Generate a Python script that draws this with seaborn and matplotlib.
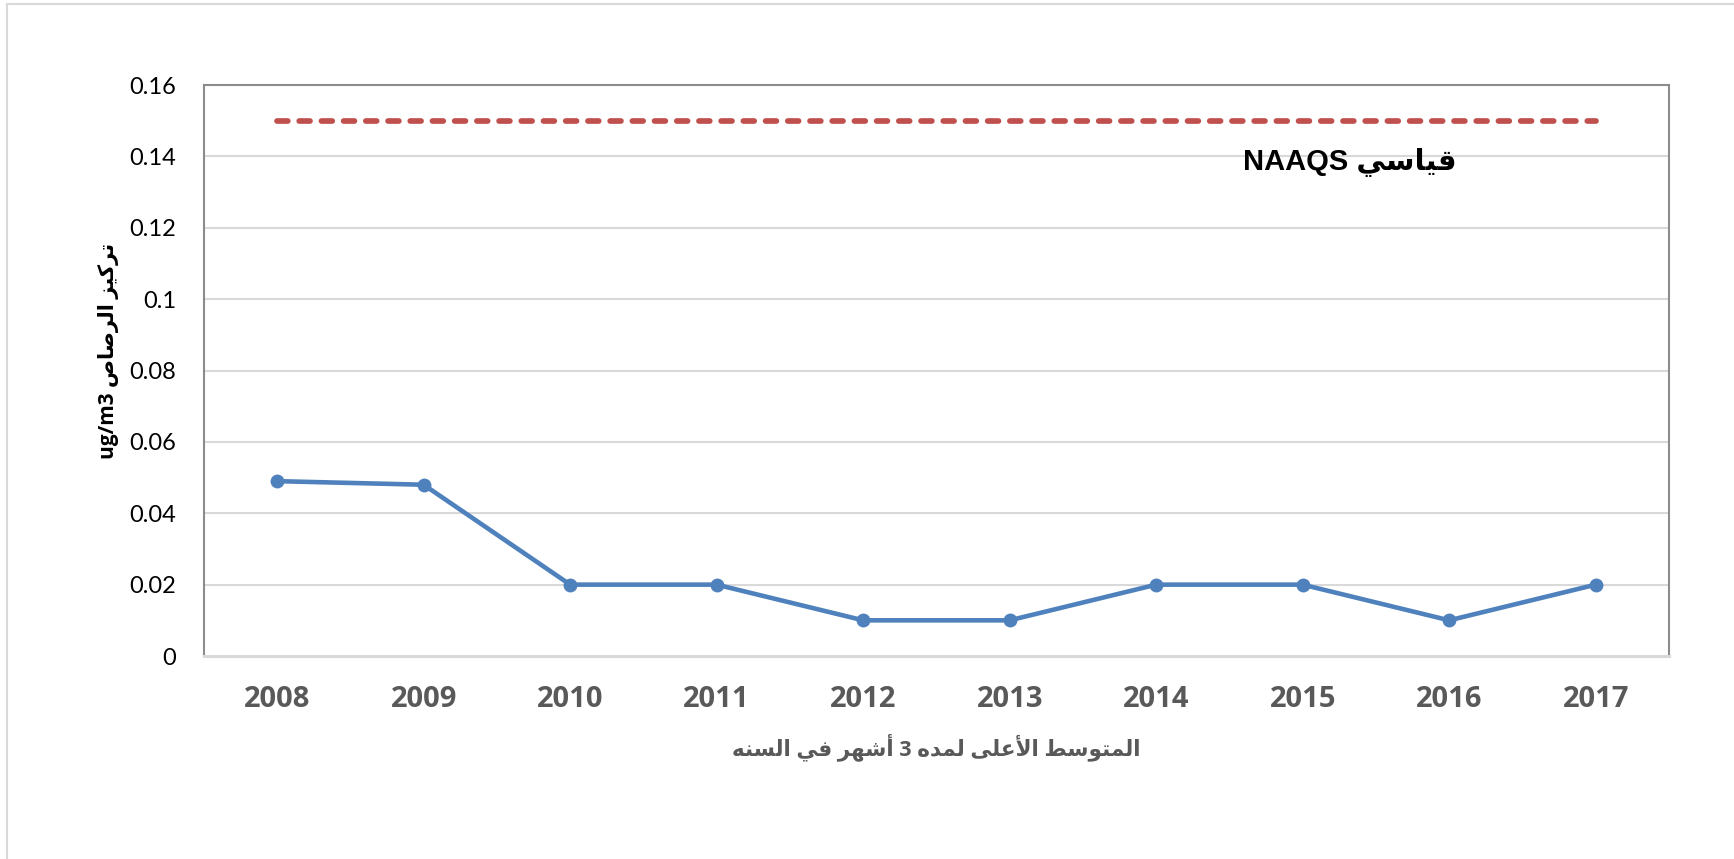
import numpy as np
import pandas as pd
import matplotlib
matplotlib.use("Agg")
import matplotlib.pyplot as plt
import seaborn as sns
from matplotlib.lines import Line2D

# data
years = ["2008", "2009", "2010", "2011", "2012", "2013", "2014", "2015", "2016", "2017"]
lead = [0.049, 0.048, 0.02, 0.02, 0.01, 0.01, 0.02, 0.02, 0.01, 0.02]
naaqs = [0.15] * len(years)
yticks = [0, 0.02, 0.04, 0.06, 0.08, 0.1, 0.12, 0.14, 0.16]
ytick_labels = ["0", "0.02", "0.04", "0.06", "0.08", "0.1", "0.12", "0.14", "0.16"]

ylabel_text = "تركيز الرصاص ug/m3"
xlabel_text = "المتوسط الأعلى لمده 3 أشهر في السنه"
naaqs_text = "قياسي NAAQS"

# matplotlib has no arabic shaping, so map letters to presentation forms
# (isolated, final, initial, medial)
FORMS = {
    'ا': ('\uFE8D', '\uFE8E', None, None),
    'أ': ('\uFE83', '\uFE84', None, None),
    'د': ('\uFEA9', '\uFEAA', None, None),
    'ر': ('\uFEAD', '\uFEAE', None, None),
    'ز': ('\uFEAF', '\uFEB0', None, None),
    'و': ('\uFEED', '\uFEEE', None, None),
    'ى': ('\uFEEF', '\uFEF0', None, None),
    'ت': ('\uFE95', '\uFE96', '\uFE97', '\uFE98'),
    'س': ('\uFEB1', '\uFEB2', '\uFEB3', '\uFEB4'),
    'ش': ('\uFEB5', '\uFEB6', '\uFEB7', '\uFEB8'),
    'ص': ('\uFEB9', '\uFEBA', '\uFEBB', '\uFEBC'),
    'ط': ('\uFEC1', '\uFEC2', '\uFEC3', '\uFEC4'),
    'ع': ('\uFEC9', '\uFECA', '\uFECB', '\uFECC'),
    'ف': ('\uFED1', '\uFED2', '\uFED3', '\uFED4'),
    'ق': ('\uFED5', '\uFED6', '\uFED7', '\uFED8'),
    'ك': ('\uFED9', '\uFEDA', '\uFEDB', '\uFEDC'),
    'ل': ('\uFEDD', '\uFEDE', '\uFEDF', '\uFEE0'),
    'م': ('\uFEE1', '\uFEE2', '\uFEE3', '\uFEE4'),
    'ن': ('\uFEE5', '\uFEE6', '\uFEE7', '\uFEE8'),
    'ه': ('\uFEE9', '\uFEEA', '\uFEEB', '\uFEEC'),
    'ي': ('\uFEF1', '\uFEF2', '\uFEF3', '\uFEF4'),
}
LAM_ALEF = {'ا': ('\uFEFB', '\uFEFC'), 'أ': ('\uFEF7', '\uFEF8')}


def shape_word(w):
    res = []
    prev_joins = False
    i = 0
    while i < len(w):
        c = w[i]
        if c == 'ل' and i + 1 < len(w) and w[i + 1] in LAM_ALEF:
            iso, fin = LAM_ALEF[w[i + 1]]
            res.append(fin if prev_joins else iso)
            prev_joins = False
            i += 2
            continue
        if c not in FORMS:
            res.append(c)
            prev_joins = False
            i += 1
            continue
        iso, fin, ini, med = FORMS[c]
        nxt = w[i + 1] if i + 1 < len(w) else None
        next_joins = ini is not None and nxt in FORMS
        if prev_joins and next_joins:
            res.append(med)
        elif prev_joins:
            res.append(fin)
        elif next_joins:
            res.append(ini)
        else:
            res.append(iso)
        prev_joins = ini is not None
        i += 1
    return "".join(res)


def ar(text):
    out = []
    for w in text.split(" "):
        if any(c in FORMS for c in w):
            out.append(shape_word(w)[::-1])
        else:
            out.append(w)
    return " ".join(out[::-1])


df = pd.DataFrame({"year": years, "lead": lead, "naaqs": naaqs})

sns.set_style("white")
plt.rcParams['font.family'] = ['Lato', 'DejaVu Sans']

fig = plt.figure(figsize=(17.34, 8.59), dpi=100)
ax = fig.add_axes([0.1176, 0.2363, 0.8449, 0.6647])

sns.lineplot(data=df, x="year", y="naaqs", ax=ax, color="#c0504d", lw=4.1,
             linestyle=(0, (1.9, 2.0)), dash_capstyle="round", zorder=3)
sns.lineplot(data=df, x="year", y="lead", ax=ax, color="#4f81bd", lw=3.3,
             marker="o", markersize=10, markeredgewidth=0, zorder=4)

ax.set_xlim(-0.5, len(years) - 0.5)
ax.set_ylim(0, 0.16)
ax.set_yticks(yticks)
ax.set_yticklabels(ytick_labels, fontsize=17, color="black")
ax.set_xticks(range(len(years)))
ax.set_xticklabels(years, fontsize=21, fontweight="bold", color="#595959",
                   family=['Open Sans', 'DejaVu Sans'])
ax.tick_params(axis="y", length=0, pad=20)
ax.tick_params(axis="x", length=0, pad=21)

ax.grid(axis="y", color="#d9d9d9", lw=1.5)
ax.grid(axis="x", visible=False)
ax.set_axisbelow(True)
for side in ["left", "top", "right"]:
    ax.spines[side].set_color("#8c8c8c")
    ax.spines[side].set_linewidth(1.5)
ax.spines["bottom"].set_color("#d9d9d9")
ax.spines["bottom"].set_linewidth(2.2)

ax.set_xlabel(ar(xlabel_text), fontsize=15.5, fontweight="bold", color="#595959",
              family=['Open Sans', 'DejaVu Sans'])
ax.xaxis.set_label_coords(0.5, -0.135)
ax.set_ylabel(ar(ylabel_text), fontsize=15, fontweight="bold", color="black",
              family=['Open Sans', 'DejaVu Sans'])
ax.yaxis.set_label_coords(-0.058, 0.534)

ax.text(7.32, 0.1384, ar(naaqs_text), fontsize=21, fontweight="bold", color="black",
        ha="center", va="center", family=['Liberation Sans', 'DejaVu Sans'])

# light frame of the chart area
fig.add_artist(Line2D([7 / 1734, 1], [1 - 4 / 859, 1 - 4 / 859], transform=fig.transFigure,
                      color="#d9d9d9", lw=1.5))
fig.add_artist(Line2D([7 / 1734, 7 / 1734], [0, 1 - 4 / 859], transform=fig.transFigure,
                      color="#d9d9d9", lw=1.5))

fig.savefig("out.png", dpi=100)
